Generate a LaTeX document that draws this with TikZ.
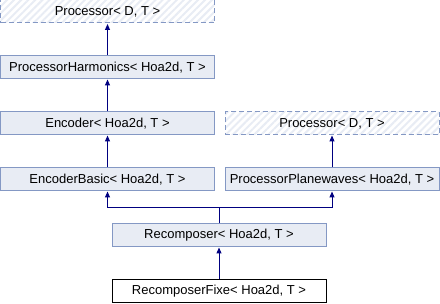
\documentclass[tikz,border=0pt]{standalone}
\usepackage{fontspec}
\setmainfont{Liberation Sans}
\usepackage{tikz}
\usetikzlibrary{arrows.meta,patterns.meta}

\definecolor{boxfill}{RGB}{232,236,244}
\definecolor{boxline}{RGB}{132,152,196}
\definecolor{linkcol}{RGB}{0,0,128}

\begin{document}
\begin{tikzpicture}[x=1pt,y=-1pt,
	cls/.style={draw=boxline,fill=boxfill,line width=1pt,minimum width=214pt,minimum height=23pt,inner sep=0pt,font=\fontsize{13}{15}\selectfont},
	ext/.style={cls,fill=none,dash pattern=on 5pt off 3pt,pattern={Lines[angle=45,distance=5pt,line width=2pt]},pattern color=boxfill},
	this/.style={cls,draw=black,fill=white},
	inh/.style={draw=linkcol,line width=1pt,-{Triangle[length=6pt,width=5pt]}}]
	\useasboundingbox (0,0) rectangle (440,304);
	% class boxes, top to bottom
	\node[ext] (proc) at (107.5,11.5) {Processor< D, T >};
	\node[cls] (harm) at (107.5,67.5) {ProcessorHarmonics< Hoa2d, T >};
	\node[cls] (enc) at (107.5,123.5) {Encoder< Hoa2d, T >};
	\node[ext] (procb) at (332,123.5) {Processor< D, T >};
	\node[cls] (encbasic) at (107.5,179.5) {EncoderBasic< Hoa2d, T >};
	\node[cls] (planew) at (332,179.5) {ProcessorPlanewaves< Hoa2d, T >};
	\node[cls] (recomp) at (219,235.5) {Recomposer< Hoa2d, T >};
	\node[this] (fixe) at (219,291.5) {RecomposerFixe< Hoa2d, T >};
	% inheritance links
	\draw[inh] (harm) -- (proc);
	\draw[inh] (enc) -- (harm);
	\draw[inh] (encbasic) -- (enc);
	\draw[inh] (planew) -- (procb);
	\coordinate (fork) at (219,208);
	\draw[draw=linkcol,line width=1pt] (recomp) -- (fork);
	\draw[inh] (fork) -| (encbasic);
	\draw[inh] (fork) -| (planew);
	\draw[inh] (fixe) -- (recomp);
\end{tikzpicture}
\end{document}
